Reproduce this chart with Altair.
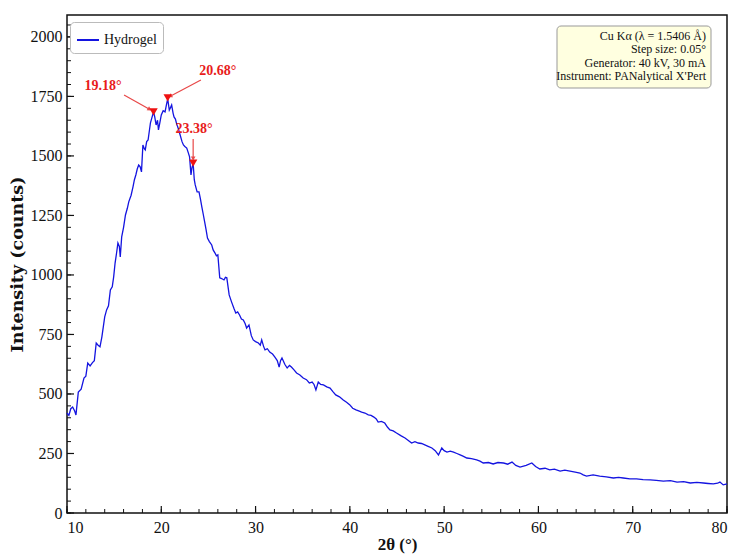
import altair as alt
import pandas as pd
import numpy as np

# ---- data ----
two_theta = [
    10.0, 10.2, 10.4, 10.6, 10.8, 10.95, 11.2, 11.5, 11.8, 12.0, 12.2, 12.45, 12.7, 12.9,
    13.1, 13.3, 13.5, 13.7, 14.0, 14.2, 14.4, 14.6, 14.8, 14.95, 15.1, 15.25, 15.4, 15.55,
    15.65, 15.8, 16.0, 16.2, 16.4, 16.55, 16.8, 17.0, 17.15, 17.3, 17.45, 17.6, 17.75, 17.9,
    18.05, 18.2, 18.3, 18.45, 18.6, 18.75, 18.85, 19.0, 19.18, 19.3, 19.45, 19.6, 19.7, 19.85,
    20.0, 20.2, 20.4, 20.55, 20.68, 20.85, 21.0, 21.1, 21.25, 21.35, 21.5, 21.6, 21.8, 22.0,
    22.2, 22.35, 22.5, 22.7, 22.85, 23.0, 23.15, 23.25, 23.38, 23.5, 23.6, 23.8, 24.0, 24.15,
    24.3, 24.45, 24.6, 24.75, 24.9, 25.1, 25.35, 25.5, 25.7, 25.85, 26.0, 26.2, 26.4, 26.65,
    26.8, 26.95, 27.2, 27.45, 27.7, 27.9, 28.1, 28.3, 28.5, 28.7, 28.9, 29.05, 29.3, 29.55,
    29.75, 30.0, 30.3, 30.5, 30.65, 30.85, 31.0, 31.25, 31.5, 31.8, 32.05, 32.3, 32.5, 32.65,
    32.8, 33.1, 33.35, 33.6, 33.8, 34.1, 34.35, 34.7, 35.05, 35.4, 35.7, 36.0, 36.2, 36.4,
    36.65, 36.9, 37.2, 37.55, 37.9, 38.2, 38.5, 38.9, 39.3, 39.65, 40.0, 40.3, 40.65, 41.0,
    41.25, 41.6, 41.95, 42.25, 42.55, 42.8, 43.0, 43.35, 43.7, 44.0, 44.25, 44.6, 44.95, 45.4,
    45.85, 46.2, 46.55, 46.9, 47.25, 47.6, 47.95, 48.3, 48.7, 49.05, 49.4, 49.75, 50.0, 50.3,
    50.65, 51.0, 51.35, 51.7, 52.05, 52.4, 52.9, 53.45, 53.8, 54.15, 54.7, 55.2, 55.7, 56.3,
    56.75, 57.2, 57.6, 58.05, 58.7, 59.3, 59.7, 60.15, 60.7, 61.2, 61.7, 62.3, 62.8, 63.35,
    63.9, 64.4, 64.75, 65.1, 65.8, 66.5, 67.2, 67.95, 68.5, 69.0, 69.7, 70.4, 71.1, 71.85,
    72.5, 73.25, 74.0, 74.7, 75.4, 76.1, 76.8, 77.5, 78.0, 78.55, 79.0, 79.25, 79.6, 80.0,
]
intensity = [
    420, 410, 438, 445, 430, 412, 508, 520, 567, 575, 630, 618, 632, 640,
    714, 705, 698, 740, 824, 853, 870, 937, 950, 992, 1050, 1090, 1134, 1120,
    1076, 1160, 1200, 1252, 1280, 1307, 1335, 1370, 1400, 1420, 1445, 1462, 1455, 1433,
    1546, 1530, 1525, 1560, 1567, 1610, 1639, 1660, 1685, 1665, 1630, 1650, 1609, 1640,
    1672, 1690, 1685, 1715, 1740, 1693, 1705, 1714, 1680, 1664, 1655, 1639, 1615, 1588,
    1560, 1546, 1540, 1533, 1515, 1496, 1420, 1450, 1468, 1400, 1378, 1349, 1349, 1320,
    1286, 1255, 1223, 1190, 1155, 1140, 1126, 1105, 1092, 1080, 1084, 988, 985, 979,
    990, 988, 916, 887, 860, 840, 845, 832, 815, 811, 795, 777, 790, 745,
    727, 720, 714, 705, 727, 700, 685, 690, 676, 668, 655, 640, 613, 640,
    651, 625, 609, 620, 613, 600, 588, 580, 567, 560, 546, 550, 540, 517,
    550, 540, 538, 530, 525, 510, 496, 488, 475, 465, 454, 440, 433, 428,
    424, 420, 412, 410, 403, 395, 382, 385, 378, 360, 349, 345, 336, 325,
    315, 305, 294, 300, 294, 292, 286, 280, 273, 262, 244, 273, 262, 256,
    260, 256, 250, 244, 238, 231, 228, 223, 218, 210, 212, 206, 212, 210,
    205, 214, 200, 193, 200, 210, 195, 185, 188, 181, 184, 176, 180, 176,
    172, 168, 160, 155, 160, 155, 152, 147, 150, 147, 143, 143, 140, 139,
    137, 134, 136, 130, 132, 126, 129, 126, 124, 122, 125, 130, 118, 122,
]
series_name = "Hydrogel"

x_tick_labels = [10, 20, 30, 40, 50, 60, 70, 80]
y_tick_labels = [0, 250, 500, 750, 1000, 1250, 1500, 1750, 2000]

peak_pos = [19.18, 20.68, 23.38]
peak_int = [1685, 1744, 1470]
peak_labels = ["19.18°", "20.68°", "23.38°"]

info_lines = ["Cu Kα (λ = 1.5406 Å)", "Step size: 0.05°",
              "Generator: 40 kV, 30 mA", "Instrument: PANalytical X'Pert"]

# ---- layout constants ----
W, H = 660, 498
XMIN, XMAX = 10, 80
YMIN, YMAX = 0, 2092
SERIF = "Liberation Serif"

xs = alt.Scale(domain=[XMIN, XMAX], nice=False, zero=False)
ys = alt.Scale(domain=[YMIN, YMAX], nice=False)

x_axis = alt.Axis(values=x_tick_labels, format="d", title="2θ (°)", grid=False, ticks=False,
                  domain=False, labelFont=SERIF, labelFontSize=16, labelColor="#111",
                  labelPadding=6, titleFont=SERIF, titleFontSize=17,
                  titleFontWeight="bold", titleColor="#111", titlePadding=1)
y_axis = alt.Axis(values=y_tick_labels, format="d", title="Intensity (counts)", grid=False,
                  ticks=False, domain=False, labelFont=SERIF, labelFontSize=16,
                  labelColor="#111", labelPadding=5, titleFont="DejaVu Serif",
                  titleFontSize=17.5, titleFontWeight="bold", titleColor="#111",
                  titlePadding=4)


def X(field):
    return alt.X(field, scale=xs, axis=x_axis, title="2θ (°)")


def Y(field):
    return alt.Y(field, scale=ys, axis=y_axis, title="Intensity (counts)")


df = pd.DataFrame({"tt": two_theta, "I": intensity, "series": series_name})

line = alt.Chart(df).mark_line(strokeWidth=1.3).encode(
    x=X("tt:Q"),
    y=Y("I:Q"),
    color=alt.Color("series:N", scale=alt.Scale(range=["#1414e0"]),
                    legend=alt.Legend(title=None, orient="none", legendX=3, legendY=7,
                                      symbolType="stroke", symbolSize=484,
                                      symbolStrokeWidth=2, labelFont=SERIF,
                                      labelFontSize=14, labelColor="#111",
                                      strokeColor="#bbbbbb", fillColor="white",
                                      cornerRadius=4, padding=6)),
)

# inward tick marks built from the axis steps
x_major = pd.DataFrame({"v": x_tick_labels})
x_minor = pd.DataFrame({"v": np.arange(XMIN, XMAX + 1, 2)})
y_major = pd.DataFrame({"v": y_tick_labels})
y_minor = pd.DataFrame({"v": np.arange(0, 2051, 50)})

xmaj = alt.Chart(x_major).mark_rule(color="#111", strokeWidth=1.2).encode(
    x=X("v:Q"), y=alt.value(H), y2=alt.value(H - 7))
xmin_ = alt.Chart(x_minor).mark_rule(color="#111", strokeWidth=1).encode(
    x=X("v:Q"), y=alt.value(H), y2=alt.value(H - 4))
ymaj = alt.Chart(y_major).mark_rule(color="#111", strokeWidth=1.2).encode(
    y=Y("v:Q"), x=alt.value(0), x2=alt.value(7))
ymin_ = alt.Chart(y_minor).mark_rule(color="#111", strokeWidth=1).encode(
    y=Y("v:Q"), x=alt.value(0), x2=alt.value(4))

# peak markers
peaks = pd.DataFrame({"x": peak_pos, "y": peak_int})
markers = alt.Chart(peaks).mark_point(shape="triangle-down", filled=True, color="#ee1111",
                                      size=70, opacity=1).encode(
    x=X("x:Q"), y=Y("y:Q"))

# annotation labels and arrows (data coordinates)
ann = pd.DataFrame({
    "label": peak_labels,
    "lx": [13.82, 26.0, 23.47], "ly": [1794, 1857, 1613],
    "ax": [16.05, 24.2, 23.38], "ay": [1756, 1819, 1571],
    "bx": [18.7, 21.0, 23.38], "by": [1697, 1752, 1492],
    "ang": [121, 242, 180],
})
labels = alt.Chart(ann).mark_text(font=SERIF, fontSize=14, fontWeight="bold",
                                  color="#e81c1c", align="center", baseline="middle").encode(
    x=X("lx:Q"), y=Y("ly:Q"), text="label:N")
arrows = alt.Chart(ann).mark_rule(color="#e84848", strokeWidth=1.2).encode(
    x=X("ax:Q"), y=Y("ay:Q"), x2="bx:Q", y2="by:Q")
heads = alt.Chart(ann).mark_point(shape="triangle", filled=True, color="#e84848",
                                  size=22, opacity=1).encode(
    x=X("bx:Q"), y=Y("by:Q"), angle=alt.Angle("ang:Q", scale=None))

# info box (top right)
one = pd.DataFrame({"t": ["\n".join(info_lines)]})
box = alt.Chart(one).mark_rect(fill="#ffffe0", stroke="#999999", strokeWidth=1,
                               cornerRadius=4).encode(
    x=alt.value(490), x2=alt.value(644), y=alt.value(11), y2=alt.value(73))
info = alt.Chart(one).mark_text(font=SERIF, fontSize=12, color="#111", align="right",
                                baseline="top", lineBreak="\n", lineHeight=13.3).encode(
    x=alt.value(639), y=alt.value(16), text="t:N")

chart = alt.layer(line, xmin_, xmaj, ymin_, ymaj, arrows, heads, markers, labels, box, info).properties(
    width=W, height=H,
    autosize=alt.AutoSizeParams(type="none"),
    padding={"left": 67, "top": 15, "right": 5, "bottom": 42},
    background="white",
).configure_view(stroke="#111", strokeWidth=1.5)

chart.save("out.html", embed_options={"renderer": "svg", "actions": False})
